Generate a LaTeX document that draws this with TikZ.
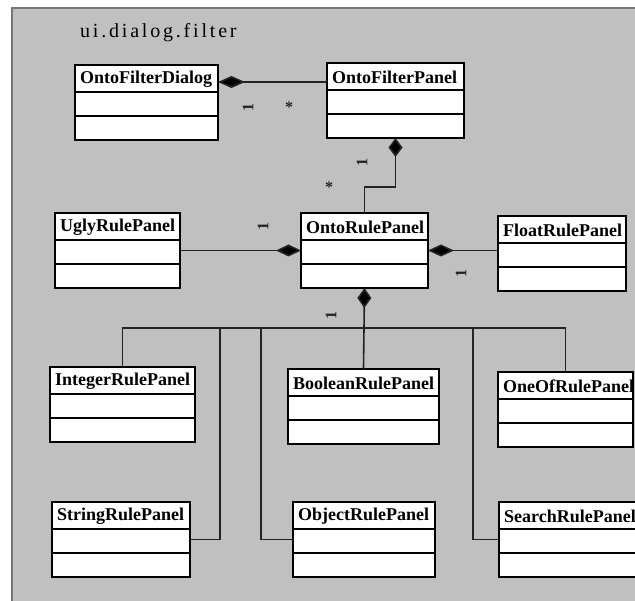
\documentclass[tikz,border=0pt]{standalone}
\usepackage{fontspec}
\setmainfont{Liberation Serif}
\newfontfamily\titlefont[LetterSpace=14]{Liberation Serif}
\usetikzlibrary{arrows.meta,calc}

\definecolor{canvasgrey}{RGB}{192,192,192}
\definecolor{framegrey}{RGB}{118,118,118}
\definecolor{linkgrey}{RGB}{35,35,35}

\tikzset{
  classbox/.style={draw=black, line width=1.4pt, fill=white, minimum height=75pt,
    inner sep=0pt, outer sep=0pt},
  divider/.style={draw=black, line width=1.2pt},
  classname/.style={anchor=west, inner sep=0pt, font=\bfseries\fontsize{18}{18}\selectfont},
  assoc/.style={draw=linkgrey, line width=1.6pt},
  comp/.style 2 args={assoc, {Diamond[length=#1, width=#2, fill=black]}-},
  mult/.style={font=\bfseries\fontsize{16}{16}\selectfont, inner sep=0pt, text=linkgrey},
}

% A class box: name, left x, top y, right x, class name
\newcommand\umlclass[5]{%
  \node[classbox, minimum width={#4-#2}] (#1) at ({(#2+#4)/2},{#3+37.5}) {};
  \draw[divider] ($(#1.north west)+(0,27)$) -- ($(#1.north east)+(0,27)$);
  \draw[divider] ($(#1.north west)+(0,51)$) -- ($(#1.north east)+(0,51)$);
  \node[classname] (#1-name) at ($(#1.north west)+(5,14)$) {#5};
}

\begin{document}
\begin{tikzpicture}[x=1pt, y=-1pt]
  \useasboundingbox (0,0) rectangle (635,601);

  % package frame
  \fill[canvasgrey] (12,8) rectangle (660,620);
  \draw[framegrey, line width=2pt] (12,620) -- (12,8) -- (660,8);
  \node[anchor=base west, inner sep=0pt, font=\titlefont\fontsize{20}{20}\selectfont]
    (title) at (80,38) {ui.dialog.filter};

  % classes
  \umlclass{dialog}{75}{65}{218}{OntoFilterDialog}
  \umlclass{fpanel}{327}{63}{464}{OntoFilterPanel}
  \umlclass{ugly}{55}{213}{180}{UglyRulePanel}
  \umlclass{rpanel}{301}{213}{428}{OntoRulePanel}
  \umlclass{float}{498}{216}{626}{FloatRulePanel}
  \umlclass{integer}{50}{367}{195}{IntegerRulePanel}
  \umlclass{boolean}{288}{369}{439}{BooleanRulePanel}
  \umlclass{oneof}{498}{372}{633}{OneOfRulePanel}
  \umlclass{string}{52}{502}{190}{StringRulePanel}
  \umlclass{object}{293}{502}{435}{ObjectRulePanel}
  \umlclass{search}{499}{502}{638}{SearchRulePanel}

  % routing coordinates
  \coordinate (dlink) at (0,82);
  \coordinate (fbend) at (0,187);
  \coordinate (bus) at (0,328);
  \coordinate (sdrop) at (220,328);
  \coordinate (odrop) at (261,328);
  \coordinate (qdrop) at (473,328);

  % compositions
  \draw[comp={27pt}{12pt}] (dialog.east |- dlink) -- (fpanel.west |- dlink);
  \draw[comp={19pt}{14pt}] (fpanel.south) -- (fpanel.south |- fbend)
    -- (rpanel.north |- fbend) -- (rpanel.north);
  \draw[comp={25pt}{12pt}] (rpanel.west) -- (ugly.east);
  \draw[comp={26pt}{12pt}] (rpanel.east) -- (float.west |- rpanel.east);
  \draw[comp={20pt}{14pt}] (rpanel.south) -- (boolean.north);

  % branch bus to the rule panels
  \draw[assoc] (integer.north) -- (integer.north |- bus) -- (oneof.north |- bus) -- (oneof.north);
  \draw[assoc] (sdrop) |- (string.east);
  \draw[assoc] (odrop) |- (object.west);
  \draw[assoc] (qdrop) |- (search.west);

  % multiplicities
  \node[mult, rotate=90] (m1) at (248,108) {1};
  \node[mult] (m2) at (289,107) {*};
  \node[mult, rotate=90] (m3) at (362,163) {1};
  \node[mult] (m4) at (329,187) {*};
  \node[mult, rotate=90] (m5) at (263,227) {1};
  \node[mult, rotate=90] (m6) at (461,274) {1};
  \node[mult, rotate=90] (m7) at (331,316) {1};
\end{tikzpicture}
\end{document}
